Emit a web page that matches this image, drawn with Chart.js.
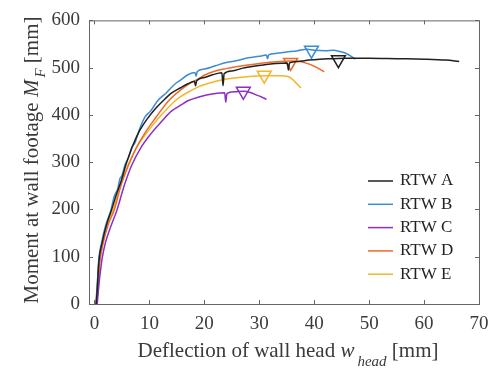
<!DOCTYPE html>
<html>
<head>
<meta charset="utf-8">
<script src="https://cdn.jsdelivr.net/npm/chart.js@4"></script>
<style>
  html, body { margin: 0; padding: 0; background: #fff; }
  #wrap { width: 503px; height: 371px; }
</style>
</head>
<body>
<div id="wrap"><canvas id="momentChart"></canvas></div>
<script>
const xTicks = [0, 10, 20, 30, 40, 50, 60, 70];
const yTicks = [0, 100, 200, 300, 400, 500, 600];
const names = ['RTW A', 'RTW B', 'RTW C', 'RTW D', 'RTW E'];
const colors = ['#202020', '#3d8bd2', '#8c2fc6', '#ee6a26', '#f5b52b'];

const aX = [0.3, 0.5, 0.8, 1.4, 2.2, 3.1, 4.0, 4.9, 5.7, 6.8, 8.0, 9.5, 11, 12.5, 14, 15.6, 17, 18.2, 18.4, 18.6, 20, 21.5, 23.2, 23.4, 23.6, 25, 27, 29, 31, 33, 35.1, 35.3, 35.5, 37, 39, 41, 43.5, 46, 50, 55, 60, 64, 66.4];
const aY = [0, 30, 90, 130, 168, 199, 232, 262, 294, 330, 362, 390, 412, 430, 446, 457, 466, 471, 462, 472, 479, 485, 489, 462, 487, 493, 499, 503, 506, 509, 510, 495, 510, 513, 516, 518, 519, 520, 520, 519, 518, 516, 513];

const bX = [0.3, 0.5, 0.8, 1.3, 2.0, 3.0, 3.6, 4.2, 4.6, 5.0, 5.6, 6.2, 6.8, 7.4, 8.2, 9.2, 10.2, 11.5, 13, 14.7, 15.6, 17, 18.3, 18.5, 18.7, 20, 22, 24, 26, 28, 30, 31.3, 31.5, 31.7, 33, 35, 37, 38.7, 40, 42, 43.5, 44.7, 46, 47.5];
const bY = [0, 40, 97, 130, 165, 199, 228, 243, 264, 272, 296, 310, 332, 342, 370, 396, 408, 430, 446, 466, 473, 485, 490, 482, 492, 497, 504, 511, 515, 521, 524, 527, 519, 527, 530, 533, 536, 539, 537, 536, 537, 534, 529, 518];

const cX = [0.5, 0.8, 1.2, 1.4, 2.0, 3.0, 4.1, 5.4, 6.8, 8.4, 10.4, 12.5, 14, 15.6, 17, 19, 21.7, 23.7, 23.9, 24.1, 25.5, 27.1, 28.5, 29.5, 30.4, 31.3];
const cY = [0, 40, 80, 97, 130, 165, 199, 250, 294, 330, 362, 390, 408, 420, 430, 438, 445, 447, 427, 445, 449, 450, 447, 442, 438, 433];

const dX = [0.4, 0.7, 1.0, 1.6, 2.5, 3.6, 4.8, 6.2, 7.6, 9.2, 11.2, 13.5, 15.6, 17, 18.9, 20, 21.7, 24, 27, 30, 33.8, 36, 37.5, 38.7, 40, 41, 41.8];
const dY = [0, 40, 90, 130, 168, 199, 250, 294, 330, 362, 395, 430, 452, 464, 476, 484, 492, 498, 504, 509, 513, 514, 513, 509, 503, 497, 491];

const eX = [0.2, 0.5, 0.8, 1.4, 2.3, 3.4, 4.7, 6.1, 7.6, 9.5, 11.8, 14.7, 15.6, 17, 19, 21.7, 24, 27.8, 31, 34, 35, 35.8, 36.5, 37.1, 37.6];
const eY = [0, 40, 90, 130, 168, 199, 250, 294, 330, 362, 395, 430, 438, 448, 460, 470, 476, 481, 483, 483, 482, 478, 470, 463, 457];

// peak markers (A..E)
const peakX = [44.4, 39.5, 27.1, 35.7, 30.9];
const peakY = [517, 537, 450, 511, 484];

const seriesX = [aX, bX, cX, dX, eX];
const seriesY = [aY, bY, cY, dY, eY];

const datasets = names.map((n, i) => ({
  label: n,
  data: seriesX[i].map((v, k) => ({ x: v, y: seriesY[i][k] })),
  showLine: true,
  borderColor: colors[i],
  borderWidth: 1.5,
  pointRadius: 0,
  cubicInterpolationMode: 'monotone'
}));
names.forEach((n, i) => {
  datasets.push({
    label: n + ' peak',
    data: [{ x: peakX[i], y: peakY[i] }],
    showLine: false,
    pointStyle: 'triangle',
    rotation: 180,
    pointRadius: 8,
    borderWidth: 1.5,
    borderColor: colors[i],
    backgroundColor: 'rgba(0,0,0,0)'
  });
});

const serif = "'Liberation Serif', 'DejaVu Serif', serif";
const textColor = '#3a3a3a';

const framePlugin = {
  id: 'frame',
  afterDraw(chart) {
    const { ctx, chartArea: a, scales } = chart;
    ctx.save();
    ctx.strokeStyle = '#666';
    ctx.lineWidth = 1;
    ctx.strokeRect(a.left + 0.5, a.top + 0.5, a.right - a.left, a.bottom - a.top);
    ctx.beginPath();
    xTicks.forEach(v => {
      const p = Math.round(scales.x.getPixelForValue(v)) + 0.5;
      ctx.moveTo(p, a.bottom); ctx.lineTo(p, a.bottom - 4);
      ctx.moveTo(p, a.top); ctx.lineTo(p, a.top + 4);
    });
    yTicks.forEach(v => {
      const p = Math.round(scales.y.getPixelForValue(v)) + 0.5;
      ctx.moveTo(a.left, p); ctx.lineTo(a.left + 4, p);
      ctx.moveTo(a.right, p); ctx.lineTo(a.right - 4, p);
    });
    ctx.stroke();

    // legend
    ctx.textBaseline = 'middle';
    ctx.font = '17px ' + serif;
    names.forEach((n, i) => {
      const yy = 181 + i * 23.3;
      ctx.strokeStyle = colors[i];
      ctx.lineWidth = 1.5;
      ctx.beginPath();
      ctx.moveTo(368, yy); ctx.lineTo(393, yy);
      ctx.stroke();
      ctx.fillStyle = '#222';
      ctx.fillText(n, 400, yy);
    });

    // x title
    ctx.fillStyle = textColor;
    const p1 = 'Deflection of wall head ', p2 = 'w', p3 = 'head', p4 = ' [mm]';
    const big = '21px ' + serif, it = 'italic 21px ' + serif, sub = 'italic 15px ' + serif;
    ctx.font = big; const w1 = ctx.measureText(p1).width, w4 = ctx.measureText(p4).width;
    ctx.font = it; const w2 = ctx.measureText(p2).width + 3;
    ctx.font = sub; const w3 = ctx.measureText(p3).width;
    let x0 = 288 - (w1 + w2 + w3 + w4) / 2;
    const ty = 351;
    ctx.font = big; ctx.fillText(p1, x0, ty); x0 += w1;
    ctx.font = it; ctx.fillText(p2, x0, ty); x0 += w2;
    ctx.font = sub; ctx.fillText(p3, x0, ty + 11); x0 += w3;
    ctx.font = big; ctx.fillText(p4, x0, ty);

    // y title
    ctx.translate(32, 160);
    ctx.rotate(-Math.PI / 2);
    const q1 = 'Moment at wall footage ', q2 = 'M', q3 = 'F', q4 = ' [mm]';
    ctx.font = big; const v1 = ctx.measureText(q1).width, v4 = ctx.measureText(q4).width;
    ctx.font = it; const v2 = ctx.measureText(q2).width + 2;
    ctx.font = sub; const v3 = ctx.measureText(q3).width;
    let y0 = -(v1 + v2 + v3 + v4) / 2;
    ctx.font = big; ctx.fillText(q1, y0, 0); y0 += v1;
    ctx.font = it; ctx.fillText(q2, y0, 0); y0 += v2;
    ctx.font = sub; ctx.fillText(q3, y0, 9); y0 += v3;
    ctx.font = big; ctx.fillText(q4, y0, 0);
    ctx.restore();
  }
};

new Chart(document.getElementById('momentChart').getContext('2d'), {
  type: 'scatter',
  data: { datasets: datasets },
  options: {
    responsive: true,
    maintainAspectRatio: false,
    animation: false,
    layout: { padding: { left: 0, right: 24, top: 10, bottom: 0 } },
    scales: {
      x: {
        type: 'linear',
        min: -1,
        max: 70,
        afterBuildTicks: s => { s.ticks = xTicks.map(v => ({ value: v })); },
        afterFit: s => { s.height = 67; },
        grid: { display: false, drawTicks: false },
        border: { display: false },
        ticks: { color: textColor, font: { family: serif, size: 19 }, padding: 9, maxRotation: 0 }
      },
      y: {
        type: 'linear',
        min: 0,
        max: 600,
        afterBuildTicks: s => { s.ticks = yTicks.map(v => ({ value: v })); },
        afterFit: s => { s.width = 89; },
        grid: { display: false, drawTicks: false },
        border: { display: false },
        ticks: { color: textColor, font: { family: serif, size: 19 }, padding: 9 }
      }
    },
    plugins: {
      legend: { display: false },
      tooltip: { enabled: false }
    }
  },
  plugins: [framePlugin]
});
</script>
</body>
</html>
